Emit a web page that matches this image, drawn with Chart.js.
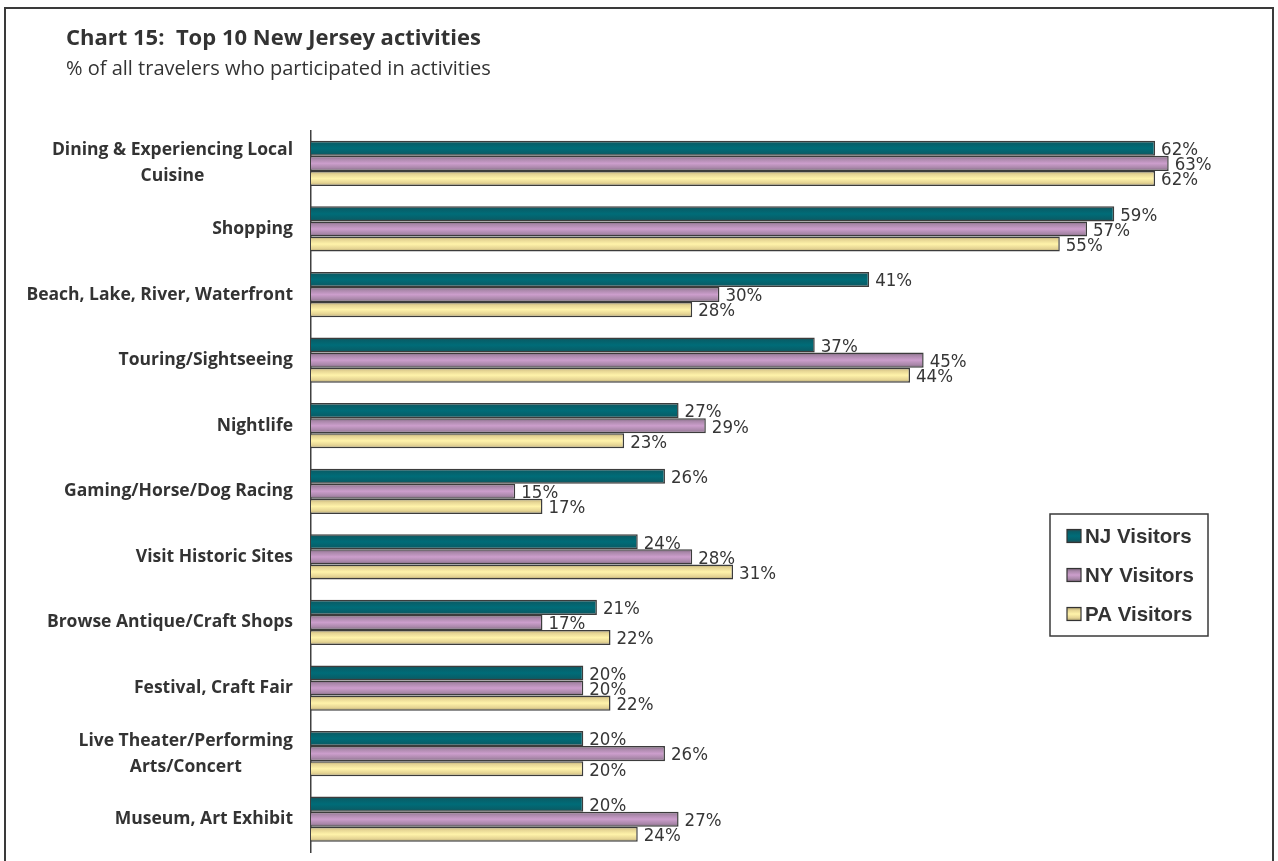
<!DOCTYPE html>
<html>
<head>
<meta charset="utf-8">
<title>Top 10 New Jersey activities</title>
<script src="https://cdn.jsdelivr.net/npm/chart.js@4/dist/chart.umd.min.js"></script>
<style>
  html, body { margin: 0; padding: 0; background: #ffffff; overflow: hidden; }
  #wrap { position: absolute; left: 0; top: 0; width: 1278px; height: 861px; }
  #frame { position: absolute; left: 4px; top: 7px; width: 1270px; height: 900px;
           border: 2px solid #3a3a3a; box-sizing: border-box; pointer-events: none; }
</style>
</head>
<body>
<div id="wrap">
  <canvas id="chart" width="1278" height="861"></canvas>
  <div id="frame"></div>
</div>
<script>
// Activity categories (top to bottom); nested arrays are wrapped lines
const categories = [
  ['Dining & Experiencing Local', 'Cuisine'],
  ['Shopping'],
  ['Beach, Lake, River, Waterfront'],
  ['Touring/Sightseeing'],
  ['Nightlife'],
  ['Gaming/Horse/Dog Racing'],
  ['Visit Historic Sites'],
  ['Browse Antique/Craft Shops'],
  ['Festival, Craft Fair'],
  ['Live Theater/Performing', 'Arts/Concert'],
  ['Museum, Art Exhibit']
];

// Share of travelers (%) by origin
const njVisitors = [62, 59, 41, 37, 27, 26, 24, 21, 20, 20, 20];
const nyVisitors = [63, 57, 30, 45, 29, 15, 28, 17, 20, 26, 27];
const paVisitors = [62, 55, 28, 44, 23, 17, 31, 22, 22, 20, 24];

const seriesNames = ['NJ Visitors', 'NY Visitors', 'PA Visitors'];

// Cylinder-like shading: stops across the bar thickness
const shading = [
  [[0, '#2e4a4e'], [0.18, '#075f69'], [0.5, '#006c78'], [0.82, '#075f69'], [1, '#2e4a4e']],
  [[0, '#7a647a'], [0.2, '#a987a9'], [0.5, '#cc9ecc'], [0.8, '#a987a9'], [1, '#7a647a']],
  [[0, '#a69a6a'], [0.2, '#e4d393'], [0.5, '#fff3aa'], [0.8, '#e4d393'], [1, '#a69a6a']]
];

const CATEGORY_PCT = 0.69;

function gradientFor(ctx2d, top, bottom, stops) {
  const g = ctx2d.createLinearGradient(0, top, 0, bottom);
  stops.forEach(s => g.addColorStop(s[0], s[1]));
  return g;
}

function barFill(seriesIdx) {
  return (c) => {
    const stops = shading[seriesIdx];
    const chart = c.chart;
    const y = chart.scales && chart.scales.y;
    if (!y || c.type !== 'data') return stops[2][1];
    const n = chart.data.datasets.length;
    const band = y.height / chart.data.labels.length;
    const h = band * CATEGORY_PCT / n;
    const center = y.getPixelForValue(c.dataIndex) + (seriesIdx - (n - 1) / 2) * h;
    if (!isFinite(center) || !isFinite(h) || h <= 0) return stops[2][1];
    return gradientFor(chart.ctx, center - h / 2, center + h / 2, stops);
  };
}

// Bars are painted series by series with each series' value labels right after,
// so a later series overlaps earlier labels.
const orderedDraw = {
  id: 'orderedDraw',
  beforeDatasetsDraw(chart) {
    const ctx = chart.ctx;
    const area = chart.chartArea;
    chart.data.datasets.forEach((ds, i) => {
      const meta = chart.getDatasetMeta(i);
      if (!meta.visible) return;
      ctx.save();
      ctx.beginPath();
      ctx.rect(area.left - 2, area.top - 2, chart.width, area.bottom - area.top + 4);
      ctx.clip();
      meta.controller.draw();
      ctx.restore();

      ctx.save();
      ctx.font = '18.5px "DejaVu Sans Condensed", "DejaVu Sans", sans-serif';
      ctx.fillStyle = '#363636';
      ctx.textAlign = 'left';
      ctx.textBaseline = 'middle';
      meta.data.forEach((el, j) => {
        ctx.fillText(ds.data[j] + '%', el.x + 6, el.y + 2);
      });
      ctx.restore();
    });
    return false;
  }
};

// Category names right of the axis gutter; wrapped lines centered on each other
const categoryLabels = {
  id: 'categoryLabels',
  afterDraw(chart) {
    const ctx = chart.ctx;
    const y = chart.scales.y;
    const right = 293;
    const lineH = 26;
    ctx.save();
    ctx.font = 'bold 17.5px "Open Sans", sans-serif';
    ctx.fillStyle = '#333333';
    ctx.textAlign = 'center';
    ctx.textBaseline = 'middle';
    categories.forEach((lines, i) => {
      const cy = y.getPixelForValue(i);
      const w = Math.max(...lines.map(t => ctx.measureText(t).width));
      const cx = right - w / 2;
      const y0 = cy - (lines.length - 1) * lineH / 2;
      lines.forEach((t, k) => ctx.fillText(t, cx, y0 + k * lineH));
    });
    ctx.restore();
  }
};

// Boxed legend at the right of the plot
const boxLegend = {
  id: 'boxLegend',
  afterDraw(chart) {
    const ctx = chart.ctx;
    const box = { x: 1050, y: 514, w: 158, h: 122 };
    ctx.save();
    ctx.fillStyle = '#ffffff';
    ctx.fillRect(box.x, box.y, box.w, box.h);
    ctx.strokeStyle = '#3a3a3a';
    ctx.lineWidth = 1.5;
    ctx.strokeRect(box.x, box.y, box.w, box.h);
    ctx.font = 'bold 20.5px "Liberation Sans", Arial, sans-serif';
    ctx.textAlign = 'left';
    ctx.textBaseline = 'middle';
    chart.data.datasets.forEach((ds, i) => {
      const cy = box.y + 22 + i * 39;
      const sx = 1067, sw = 14, sh = 13;
      ctx.fillStyle = gradientFor(ctx, cy - sh / 2, cy + sh / 2, shading[i]);
      ctx.fillRect(sx, cy - sh / 2, sw, sh);
      ctx.strokeStyle = '#333333';
      ctx.lineWidth = 1.2;
      ctx.strokeRect(sx, cy - sh / 2, sw, sh);
      ctx.fillStyle = '#333333';
      ctx.fillText(ds.label, 1085, cy + 1);
    });
    ctx.restore();
  }
};

const seriesData = [njVisitors, nyVisitors, paVisitors];

new Chart(document.getElementById('chart'), {
  type: 'bar',
  data: {
    labels: categories.map(l => l.join(' ')),
    datasets: seriesData.map((values, i) => ({
      label: seriesNames[i],
      data: values,
      backgroundColor: barFill(i),
      borderColor: '#3c3c3c',
      borderWidth: 1.5,
      categoryPercentage: CATEGORY_PCT,
      barPercentage: 1.0
    }))
  },
  options: {
    indexAxis: 'y',
    responsive: false,
    animation: false,
    events: [],
    layout: { padding: { left: 66, right: 14, top: 0, bottom: 9 } },
    scales: {
      x: {
        display: false,
        min: 0,
        max: 70
      },
      y: {
        grid: { display: false, drawTicks: false },
        ticks: { display: false },
        border: { display: true, color: '#404040', width: 1.5 },
        afterFit(scale) { scale.width = 245; }
      }
    },
    plugins: {
      legend: { display: false },
      tooltip: { enabled: false },
      title: {
        display: true,
        text: 'Chart 15:  Top 10 New Jersey activities',
        align: 'start',
        color: '#333333',
        font: { family: '"Open Sans", sans-serif', size: 22, weight: 'bold', lineHeight: 0.8 },
        padding: { top: 30, bottom: 0 }
      },
      subtitle: {
        display: true,
        text: '% of all travelers who participated in activities',
        align: 'start',
        color: '#333333',
        font: { family: '"Open Sans", sans-serif', size: 20, weight: 'normal', lineHeight: 0.8 },
        padding: { top: 14, bottom: 53 }
      }
    }
  },
  plugins: [orderedDraw, categoryLabels, boxLegend]
});
</script>
</body>
</html>
